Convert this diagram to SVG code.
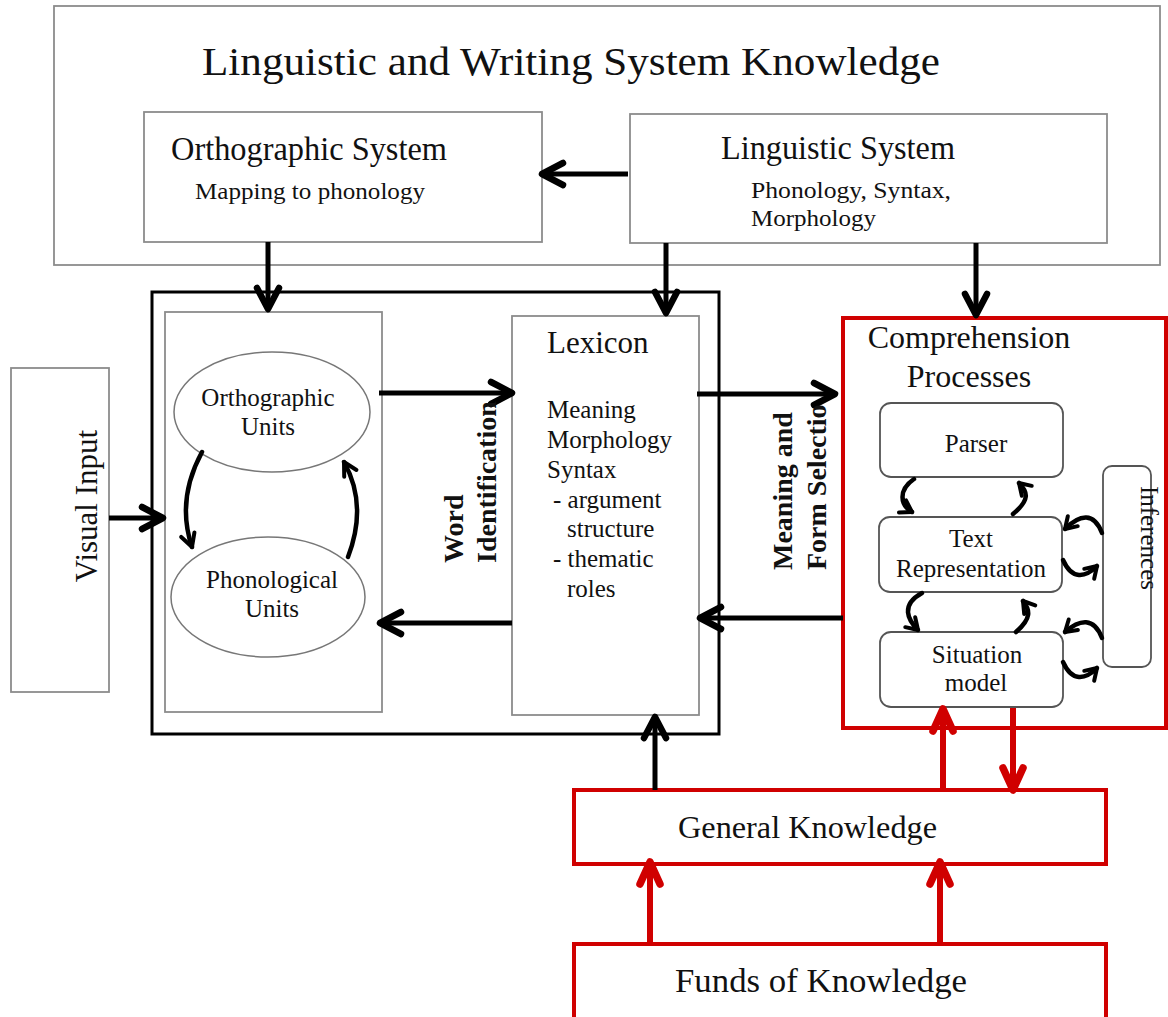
<svg xmlns="http://www.w3.org/2000/svg" width="1168" height="1017" viewBox="0 0 1168 1017">
<defs>
<style>
.t{font-family:"Liberation Serif","Times New Roman",serif;fill:#111}
.b{font-weight:bold}
.gbox{fill:#fff;stroke:#8c8c8c;stroke-width:1.8}
.kbox{fill:none;stroke:#000;stroke-width:3}
.rbox{fill:#fff;stroke:#d00000;stroke-width:4}
.rnd{fill:#fff;stroke:#555;stroke-width:1.8}
.ka{fill:none;stroke:#000;stroke-width:5}
.ra{fill:none;stroke:#d00000;stroke-width:6}
.sa{fill:none;stroke:#000;stroke-width:4.5;stroke-linecap:round}
</style>
<marker id="ahK" markerUnits="userSpaceOnUse" orient="auto" overflow="visible" markerWidth="1" markerHeight="1" refX="0" refY="0">
<path d="M-21,-11 L0,0 L-21,11" fill="none" stroke="#000" stroke-width="6.5" stroke-linejoin="round" stroke-linecap="round"/>
</marker>
<marker id="ahR" markerUnits="userSpaceOnUse" orient="auto" overflow="visible" markerWidth="1" markerHeight="1" refX="0" refY="0">
<path d="M-22,-10 L0,0 L-22,10" fill="none" stroke="#d00000" stroke-width="7.5" stroke-linejoin="round" stroke-linecap="round"/>
</marker>
<marker id="ahM" markerUnits="userSpaceOnUse" orient="auto" overflow="visible" markerWidth="1" markerHeight="1" refX="0" refY="0">
<path d="M-13,-7 L0,0 L-13,7" fill="none" stroke="#000" stroke-width="4" stroke-linejoin="round" stroke-linecap="round"/>
</marker>
<marker id="ahS" markerUnits="userSpaceOnUse" orient="auto" overflow="visible" markerWidth="1" markerHeight="1" refX="0" refY="0">
<path d="M-11,-7 L0,0 L-11,7" fill="none" stroke="#000" stroke-width="4" stroke-linejoin="round" stroke-linecap="round"/>
</marker>
</defs>
<rect x="0" y="0" width="1168" height="1017" fill="#fff"/>

<g id="linguistic-writing-knowledge">
<rect class="gbox" x="54" y="6" width="1106" height="259"/>
<text class="t" x="202" y="75" font-size="41" textLength="738" lengthAdjust="spacingAndGlyphs">Linguistic and Writing System Knowledge</text>
</g>

<g id="orthographic-system">
<rect class="gbox" x="144" y="112" width="398" height="130"/>
<text class="t" x="171" y="160" font-size="34" textLength="276" lengthAdjust="spacingAndGlyphs">Orthographic System</text>
<text class="t" x="195" y="199" font-size="23" textLength="230" lengthAdjust="spacingAndGlyphs">Mapping to phonology</text>
</g>

<g id="linguistic-system">
<rect class="gbox" x="630" y="114" width="477" height="129"/>
<text class="t" x="721" y="159" font-size="34" textLength="234" lengthAdjust="spacingAndGlyphs">Linguistic System</text>
<text class="t" x="751" y="198" font-size="23" textLength="200" lengthAdjust="spacingAndGlyphs">Phonology, Syntax,</text>
<text class="t" x="751" y="226" font-size="23" textLength="125" lengthAdjust="spacingAndGlyphs">Morphology</text>
</g>

<g id="visual-input">
<rect class="gbox" x="11" y="368" width="98" height="324"/>
<text class="t" font-size="31" text-anchor="middle" transform="translate(97,506) rotate(-90)">Visual Input</text>
</g>

<g id="word-processing-box">
<rect class="kbox" x="152" y="292" width="567" height="442"/>
</g>

<g id="units-box">
<rect class="gbox" x="165" y="312" width="217" height="400"/>
</g>

<g id="orthographic-units">
<ellipse cx="272" cy="412" rx="98" ry="60" fill="#fff" stroke="#777" stroke-width="1.5"/>
<text class="t" x="268" y="406" font-size="25" text-anchor="middle">Orthographic</text>
<text class="t" x="268" y="435" font-size="25" text-anchor="middle">Units</text>
</g>

<g id="phonological-units">
<ellipse cx="268" cy="597" rx="97" ry="60" fill="#fff" stroke="#777" stroke-width="1.5"/>
<text class="t" x="272" y="588" font-size="25" text-anchor="middle">Phonological</text>
<text class="t" x="272" y="617" font-size="25" text-anchor="middle">Units</text>
</g>

<g id="lexicon">
<rect class="gbox" x="512" y="316" width="187" height="399"/>
<text class="t" x="547" y="353" font-size="31">Lexicon</text>
<text class="t" x="547" y="418" font-size="25">Meaning</text>
<text class="t" x="547" y="448" font-size="25">Morphology</text>
<text class="t" x="547" y="478" font-size="25">Syntax</text>
<text class="t" x="553" y="508" font-size="25">- argument</text>
<text class="t" x="567" y="537" font-size="25">structure</text>
<text class="t" x="553" y="567" font-size="25">- thematic</text>
<text class="t" x="567" y="597" font-size="25">roles</text>
</g>

<g id="comprehension-processes">
<rect class="rbox" x="843" y="318" width="323" height="410" stroke-width="3.5"/>
<text class="t" x="969" y="348" font-size="32" text-anchor="middle">Comprehension</text>
<text class="t" x="969" y="387" font-size="32" text-anchor="middle">Processes</text>
</g>

<g id="parser">
<rect class="rnd" x="880" y="403" width="183" height="74" rx="11"/>
<text class="t" x="976" y="452" font-size="25" text-anchor="middle">Parser</text>
</g>

<g id="text-representation">
<rect class="rnd" x="879" y="517" width="183" height="75" rx="11"/>
<text class="t" x="971" y="547" font-size="25" text-anchor="middle">Text</text>
<text class="t" x="971" y="577" font-size="25" text-anchor="middle">Representation</text>
</g>

<g id="situation-model">
<rect class="rnd" x="880" y="632" width="183" height="75" rx="11"/>
<text class="t" x="977" y="663" font-size="25" text-anchor="middle">Situation</text>
<text class="t" x="976" y="691" font-size="25" text-anchor="middle">model</text>
</g>

<g id="inferences">
<rect class="rnd" x="1103" y="466" width="48" height="201" rx="9"/>
<text class="t" font-size="25" text-anchor="middle" transform="translate(1141,538) rotate(90)">Inferences</text>
</g>

<g id="general-knowledge">
<rect class="rbox" x="574" y="790" width="532" height="74"/>
<text class="t" x="678" y="838" font-size="32" textLength="259" lengthAdjust="spacingAndGlyphs">General Knowledge</text>
</g>

<g id="funds-of-knowledge">
<rect class="rbox" x="574" y="944" width="532" height="90"/>
<text class="t" x="675" y="992" font-size="34" textLength="292" lengthAdjust="spacingAndGlyphs">Funds of Knowledge</text>
</g>

<g id="connectors">
<path class="ka" d="M628,174 L542,174" marker-end="url(#ahK)"/>
<path class="ka" d="M268,242 L268,309" marker-end="url(#ahK)"/>
<path class="ka" d="M666,243 L666,313" marker-end="url(#ahK)"/>
<path class="ka" d="M976,243 L976,315" marker-end="url(#ahK)"/>
<path class="ka" d="M109,518 L163,518" marker-end="url(#ahK)"/>
<path class="ka" d="M379,393 L512,393" marker-end="url(#ahK)"/>
<path class="ka" d="M512,623 L380,623" marker-end="url(#ahK)"/>
<path class="ka" d="M697,394 L835,394" marker-end="url(#ahK)"/>
<path class="ka" d="M843,618 L700,618" marker-end="url(#ahK)"/>
<path class="ka" d="M655,790 L655,717" marker-end="url(#ahK)"/>
<path class="sa" d="M202,452 Q176,500 192,547" marker-end="url(#ahM)" stroke-width="4"/>
<path class="sa" d="M348,557 Q368,505 344,462" marker-end="url(#ahM)" stroke-width="4"/>
<path class="sa" d="M914,479 C898,490 900,505 912,512" marker-end="url(#ahS)"/>
<path class="sa" d="M1013,514 C1030,500 1028,492 1019,483" marker-end="url(#ahS)"/>
<path class="sa" d="M922,593 C900,605 908,620 918,630" marker-end="url(#ahS)" stroke-width="5.5"/>
<path class="sa" d="M1016,632 C1032,618 1030,610 1023,601" marker-end="url(#ahS)"/>
<path class="sa" d="M1102,533 C1094,512 1080,514 1065,529" marker-end="url(#ahS)" stroke-width="5.5"/>
<path class="sa" d="M1063,560 C1072,580 1085,578 1097,566" marker-end="url(#ahS)"/>
<path class="sa" d="M1102,638 C1094,617 1080,619 1065,632" marker-end="url(#ahS)" stroke-width="5.5"/>
<path class="sa" d="M1063,662 C1072,682 1085,680 1097,668" marker-end="url(#ahS)"/>
<path class="ra" d="M943,790 L943,709" marker-end="url(#ahR)"/>
<path class="ra" d="M1013,708 L1013,790" marker-end="url(#ahR)"/>
<path class="ra" d="M650,944 L650,862" marker-end="url(#ahR)"/>
<path class="ra" d="M940,944 L940,862" marker-end="url(#ahR)"/>
</g>

<g id="vertical-labels">
<text class="t b" font-size="28" transform="translate(463,563) rotate(-90)">Word</text>
<text class="t b" font-size="28" transform="translate(496,563) rotate(-90)">Identification</text>
<text class="t b" font-size="28" transform="translate(792,570) rotate(-90)">Meaning and</text>
<text class="t b" font-size="28" transform="translate(826,570) rotate(-90)">Form Selectio</text>
</g>
</svg>
